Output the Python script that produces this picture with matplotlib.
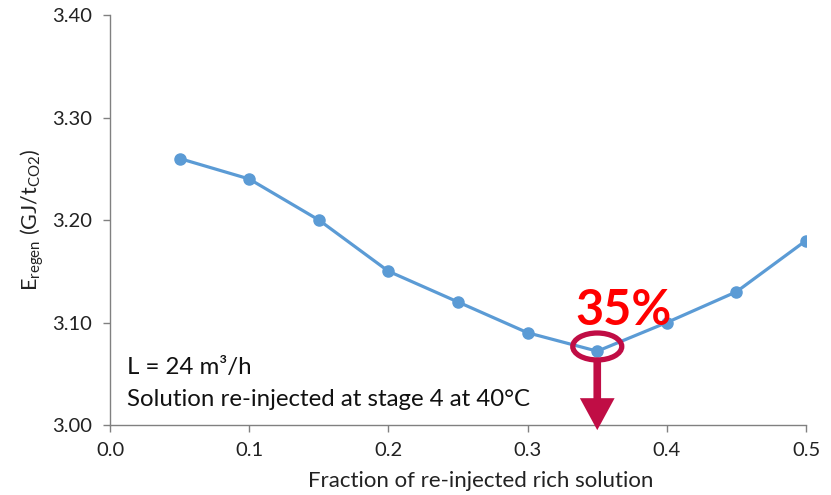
import matplotlib
matplotlib.use("Agg")
import matplotlib.pyplot as plt
from matplotlib.patches import Ellipse, FancyArrowPatch

fraction = [0.05, 0.10, 0.15, 0.20, 0.25, 0.30, 0.35, 0.40, 0.45, 0.50]
e_regen = [3.26, 3.24, 3.20, 3.15, 3.12, 3.09, 3.072, 3.10, 3.13, 3.18]
xticks = [0.0, 0.1, 0.2, 0.3, 0.4, 0.5]
yticks = [3.00, 3.10, 3.20, 3.30, 3.40]
optimum_x = 0.35
optimum_y = 3.0766

plt.rcParams['font.family'] = ['Lato', 'DejaVu Sans']
plt.rcParams['mathtext.default'] = 'regular'

fig = plt.figure(figsize=(8.31, 4.95), dpi=100)
ax = fig.add_axes([0.1324, 0.1414, 0.8376, 0.8283])

ax.plot(fraction, e_regen, color='#5B9BD5', lw=2.3, marker='o', ms=8, zorder=3)

ax.set_xlim(0, 0.5)
ax.set_ylim(3.0, 3.4)
ax.set_xticks(xticks)
ax.set_xticklabels([f"{v:.1f}" for v in xticks])
ax.set_yticks(yticks)
ax.set_yticklabels([f"{v:.2f}" for v in yticks])
for s in ['top', 'right']:
    ax.spines[s].set_visible(False)
for s in ['left', 'bottom']:
    ax.spines[s].set_color('#808080')
    ax.spines[s].set_linewidth(1.0)
ax.tick_params(axis='both', colors='#808080', labelcolor='#222222', labelsize=14.5, length=5, width=1.0)
ax.tick_params(axis='x', pad=7)
ax.tick_params(axis='y', pad=8)

ax.set_xlabel('Fraction of re-injected rich solution', fontsize=16, color='#222222', labelpad=11)
ax.xaxis.set_label_coords(0.533, -0.112)
ax.set_ylabel(r'E$_{regen}$ (GJ/t$_{CO2}$)', fontsize=15.5, color='#222222', labelpad=4)

ax.text(0.0125, 3.0565, 'L = 24 m³/h', fontsize=17.3, va='center', ha='left', color='#111111')
ax.text(0.0125, 3.025, 'Solution re-injected at stage 4 at 40°C', fontsize=17.3, va='center', ha='left', color='#111111')

red = '#C00D45'
ell = Ellipse((optimum_x, optimum_y), width=0.0352, height=0.0263, fill=False, ec=red, lw=3.8, zorder=4)
ax.add_patch(ell)
arr = FancyArrowPatch((optimum_x, optimum_y - 0.0131), (optimum_x, 2.995),
                      arrowstyle='simple,head_length=23,head_width=25,tail_width=5.5',
                      mutation_scale=1, color=red, lw=0, shrinkA=0, shrinkB=0,
                      clip_on=False, zorder=4)
ax.add_patch(arr)

ax.text(0.3687, 3.112, '35%', fontsize=35, fontweight='bold', color='#FF0000', ha='center', va='center')

fig.savefig('out.png', dpi=100)
